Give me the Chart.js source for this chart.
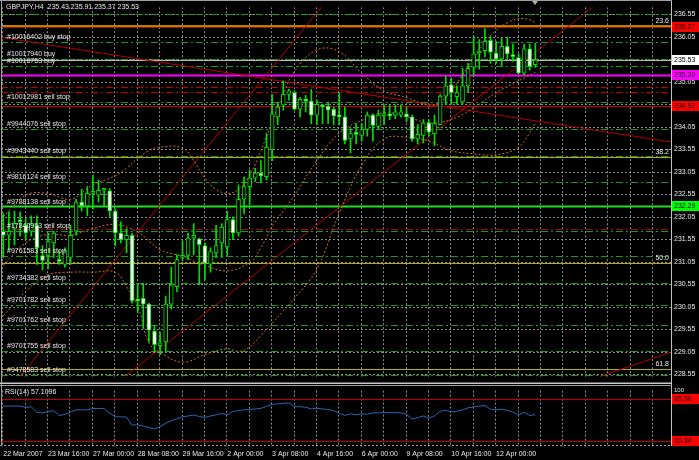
<!DOCTYPE html>
<html><head><meta charset="utf-8">
<script src="https://cdn.jsdelivr.net/npm/chart.js@4.4.0/dist/chart.umd.min.js"></script>
<style>
html,body{margin:0;padding:0;background:#000;overflow:hidden}
#wrap{position:relative;width:699px;height:460px;background:#000}
#c1{position:absolute;left:0;top:0;width:699px;height:384px}
#c2{position:absolute;left:0;top:384px;width:699px;height:76px}
</style></head><body>
<div id="wrap"><canvas id="c1" width="699" height="384"></canvas><canvas id="c2" width="699" height="76"></canvas></div>
<script>
// ---------- DATA ----------
const opens  = [231.73,231.64,231.79,231.96,231.86,231.73,231.86,231.19,231.19,231.47,231.10,230.99,231.15,231.73,232.38,232.29,232.57,232.53,232.64,232.63,
                232.18,231.69,231.54,231.64,230.22,230.24,230.11,229.51,229.19,229.27,230.11,230.50,231.15,231.19,231.58,231.56,231.41,231.00,231.25,231.47,
                231.38,231.99,231.69,232.44,232.72,232.91,233.02,232.94,233.55,234.27,234.53,234.77,234.81,234.44,234.66,234.62,234.31,234.51,234.51,234.44,
                234.31,234.27,233.78,233.90,233.86,233.99,234.31,234.06,234.29,234.34,234.31,234.31,234.34,234.27,233.78,233.86,234.14,233.90,234.10,234.73,
                234.98,234.72,234.60,234.96,235.37,235.69,235.74,235.97,235.69,235.56,235.84,235.65,235.59,235.24,235.78,235.43];
const highs  = [232.12,232.16,232.18,232.16,232.01,232.07,232.07,231.41,231.69,231.73,231.30,231.36,231.86,232.44,232.66,232.72,232.98,232.87,232.68,232.68,
                232.22,231.94,231.79,231.69,230.54,230.57,230.13,229.64,229.49,230.29,230.93,231.21,231.51,231.69,231.90,231.58,231.47,231.36,231.86,231.90,
                232.18,232.05,232.76,232.94,233.09,233.13,233.30,233.90,234.77,234.60,235.07,234.88,234.85,234.70,234.75,234.88,234.64,234.55,234.60,234.49,
                234.81,234.49,234.01,234.12,234.12,234.38,234.34,234.42,234.53,234.53,234.53,234.53,234.49,234.31,234.10,234.21,234.21,234.31,234.77,235.18,
                235.13,234.96,235.35,235.46,236.06,235.99,236.23,236.06,235.95,236.04,236.04,235.89,235.67,235.89,235.89,235.91];
const lows   = [231.15,231.32,231.43,231.62,231.54,231.62,230.99,230.87,230.89,231.15,230.99,230.93,230.99,231.64,232.18,232.07,232.22,232.38,232.29,232.05,
                231.41,231.47,231.25,230.13,229.92,229.57,229.27,229.06,228.99,229.06,230.00,230.39,231.08,231.10,231.21,230.54,230.65,230.82,231.15,231.15,
                231.19,231.54,231.62,232.12,232.33,232.83,232.81,232.87,233.30,234.10,234.42,234.64,234.42,234.27,234.38,234.12,234.10,234.12,234.12,234.10,
                234.10,233.67,233.47,233.67,233.73,233.84,233.73,234.01,234.10,234.21,234.23,234.27,234.16,233.73,233.67,233.69,233.84,233.63,234.10,234.55,
                234.55,234.55,234.55,234.81,235.18,235.33,235.61,235.46,235.46,235.41,235.56,235.50,235.22,235.20,235.31,235.37];
const closes = [231.64,231.73,231.90,231.94,231.69,231.90,231.36,231.08,231.51,231.69,231.06,231.30,231.64,232.38,232.29,232.57,232.59,232.64,232.66,232.18,
                231.69,231.54,231.64,230.18,230.18,230.11,229.53,229.21,229.25,230.11,230.54,231.10,231.19,231.58,231.64,231.43,231.02,231.28,231.41,231.82,
                231.99,231.69,232.44,232.72,232.91,233.02,232.96,233.60,234.34,234.49,234.77,234.85,234.44,234.66,234.62,234.31,234.55,234.49,234.42,234.29,
                234.27,233.75,233.90,233.88,233.99,234.31,234.08,234.31,234.34,234.29,234.38,234.38,234.27,233.78,233.88,234.14,233.93,234.12,234.73,234.96,
                234.81,234.81,234.96,235.35,235.67,235.71,235.95,235.71,235.56,235.84,235.67,235.61,235.24,235.78,235.39,235.53];
const rsiValues = [72.4,72.4,72.6,72.6,70.3,71.3,61.6,60.5,63.0,64.3,55.5,58.0,61.6,66.0,65.9,65.9,68.2,68.2,68.2,60.0,
                   53.5,53.5,53.0,38.8,39.5,37.0,34.5,32.0,36.0,42.0,46.5,50.0,53.5,55.0,56.7,54.0,52.5,55.0,57.0,59.5,
                   57.0,63.0,64.5,65.9,66.5,67.5,68.5,72.0,75.7,76.5,77.5,78.0,71.5,71.5,70.5,67.5,68.5,67.5,66.5,64.5,
                   60.0,56.0,59.0,57.0,59.0,58.0,60.5,60.5,61.0,61.0,61.0,60.5,58.0,49.5,52.0,55.0,51.5,55.0,63.3,65.0,
                   62.5,63.5,65.5,69.5,71.0,72.5,73.5,67.0,66.0,67.0,65.0,62.0,57.0,61.5,56.0,57.1];
// Bollinger band lines at selected bars
const upperBars  = [0,4,8,12,16,20,22,24,26,28,32,34,36,38,40,42,44,46,48,50,52,56,60,64,68,72,76,78,80,82,84,86,88,90,92,94,95];
const bandUpper  = [232.05,232.53,232.57,232.44,232.76,232.96,233.13,233.35,233.52,233.60,233.58,233.30,232.91,232.66,232.57,232.66,232.98,233.52,234.16,234.77,235.28,235.76,235.72,235.24,234.85,234.70,234.53,234.60,234.85,235.20,235.56,235.93,236.19,236.36,236.45,236.43,236.36];
const midBars    = [0,4,8,12,16,20,24,28,32,36,40,44,46,48,50,52,56,60,64,68,72,76,80,84,88,92,95];
const bandMiddle = [230.97,231.47,231.66,231.64,231.79,231.88,231.71,231.32,231.17,230.97,230.85,231.04,231.36,231.84,232.18,232.53,233.30,233.91,234.19,234.36,234.27,234.14,234.21,234.47,234.81,235.07,235.26];
const lowBars    = [0,4,8,12,16,20,22,24,26,28,32,36,40,42,44,46,48,50,52,56,60,64,68,72,76,80,84,88,92,95];
const bandLower  = [229.85,230.39,230.76,230.82,230.82,230.82,230.50,230.07,229.25,229.04,228.82,228.99,229.12,229.06,229.16,229.42,229.68,229.96,230.24,230.89,232.14,233.19,233.78,233.82,233.73,233.52,233.45,233.43,233.60,234.12];
const dateBars   = [0,8,16,24,32,40,48,56,64,72,80,88];
const dateLabels = ["22 Mar 2007","23 Mar 16:00","27 Mar 00:00","28 Mar 08:00","29 Mar 16:00","2 Apr 00:00","3 Apr 08:00","4 Apr 16:00","6 Apr 00:00","9 Apr 08:00","10 Apr 16:00","12 Apr 00:00"];
const priceTicks = [228.55,229.05,229.55,230.05,230.55,231.05,231.55,232.05,232.55,233.05,233.55,234.05,234.55,235.05,235.55,236.05,236.55];
const orderPrices = [236.56,235.93,235.56,235.41,234.60,234.00,233.41,232.83,231.73,231.17,230.57,230.09,229.64,229.06,228.54];
const orderNames  = ["","#10016402 buy stop","#10017940 buy","#10016753 buy","#10012981 sell stop","#9944076 sell stop","#9943440 sell stop","#9816124 sell stop","#17840953 sell stop","#9761583 sell stop","#9734382 sell stop","#9701782 sell stop","#9701762 sell stop","#9701755 sell stop","#9478583 sell stop"];
const greenLinePrice = 232.29, greenLineName = "#9788138 sell stop";
const stopPrices = [234.93,234.83,231.77];
const redPrices = [236.27,234.52];
const magentaPrice = 235.20;
const bidPrice = 235.53;
const fibPrices = [236.30,233.37,231.02,228.66];
const fibNames = ["23.6","38.2","50.0","61.8"];
const trendLines = [[[-0.6,236.04],[119.3,233.71]],[[2.98,228.50],[57.09,236.75]],[[21.73,228.50],[105.66,236.75]],[[106.5,228.50],[119.23,229.04]]];
const rsiLevels = [85.06,10.34];
const header = "GBPJPY,H4  235.43 235.91 235.37 235.53";
const rsiTitle = "RSI(14) 57.1096";

// ---------- helpers ----------
const X_MIN=-0.41, X_MAX=119.23, LAST_SLOT=119, SHIFT_BAR=95;
const GRID='#8a8a8a', FONT='"Liberation Sans", Arial, sans-serif', TXT='#e8e8e8';
function line(ctx,x1,y1,x2,y2,color,w,dash){ctx.save();ctx.strokeStyle=color;ctx.lineWidth=w;ctx.setLineDash(dash||[]);ctx.beginPath();ctx.moveTo(x1,y1);ctx.lineTo(x2,y2);ctx.stroke();ctx.restore();}
function tag(ctx,y,txt,bg,fg){ctx.save();ctx.fillStyle=bg;ctx.fillRect(672,Math.round(y)-5,27,10);ctx.fillStyle=fg;ctx.font='7px '+FONT;ctx.textBaseline='middle';ctx.fillText(txt,674,Math.round(y)+0.5);ctx.restore();}
const idx = opens.map((_,i)=>i);
const fitW = s=>{s.width=28;};
const noGrid = {display:false,drawTicks:false,tickLength:0};

// ---------- main chart ----------
const mainPlugin = {
  id:'mainPlug',
  beforeDatasetsDraw(chart){
    const {ctx,chartArea:a,scales:{x,y}}=chart;
    ctx.save();ctx.beginPath();ctx.rect(a.left,a.top,a.right-a.left,a.bottom-a.top);ctx.clip();
    const py=p=>Math.round(y.getPixelForValue(p))+0.5;
    priceTicks.forEach(p=>line(ctx,a.left,py(p),a.right,py(p),GRID,1,[2,2]));
    for(let i=0;i<=LAST_SLOT;i+=4){const xx=Math.round(x.getPixelForValue(i))-0.5;line(ctx,xx,a.top,xx,a.bottom,GRID,1,[2,2]);}
    fibPrices.forEach((p,k)=>line(ctx,a.left,py(p),a.right,py(p),k===0?'#9c8c00':'#b4b000',k===0?3:1,[]));
    orderPrices.forEach(p=>line(ctx,a.left,py(p),a.right,py(p),'#1f9a1f',1,[7,3,2,3]));
    stopPrices.forEach(p=>line(ctx,a.left,py(p),a.right,py(p),'#c00000',1,[7,3,2,3]));
    line(ctx,a.left,py(greenLinePrice),a.right,py(greenLinePrice),'#22dd22',2,[]);
    redPrices.forEach(p=>line(ctx,a.left,py(p),a.right,py(p),'#c80000',1,[]));
    line(ctx,a.left,py(magentaPrice),a.right,py(magentaPrice),'#ff00ff',2,[]);
    line(ctx,a.left,py(bidPrice),a.right,py(bidPrice),'#b8b8b8',1,[]);
    trendLines.forEach(t=>line(ctx,x.getPixelForValue(t[0][0]),y.getPixelForValue(t[0][1]),x.getPixelForValue(t[1][0]),y.getPixelForValue(t[1][1]),'#b40000',1,[]));
    ctx.restore();
  },
  afterDraw(chart){
    const {ctx,chartArea:a,scales:{x,y}}=chart;
    const py=p=>Math.round(y.getPixelForValue(p));
    ctx.save();
    ctx.font='7px '+FONT;ctx.fillStyle=TXT;ctx.textBaseline='bottom';
    orderPrices.forEach((p,k)=>{if(orderNames[k])ctx.fillText(orderNames[k],7,py(p)-1.5);});
    ctx.fillText(greenLineName,7,py(greenLinePrice)-0.5);
    ctx.textAlign='right';
    fibNames.forEach((n,k)=>ctx.fillText(n,669,py(fibPrices[k])-1));
    ctx.textAlign='left';ctx.textBaseline='middle';
    ctx.fillText(header,6,7);
    // chart-shift marker
    const sx=Math.round(x.getPixelForValue(SHIFT_BAR));
    ctx.fillStyle='#b0b0b0';ctx.beginPath();ctx.moveTo(sx-3,1);ctx.lineTo(sx+3,1);ctx.lineTo(sx,5);ctx.closePath();ctx.fill();
    ctx.restore();
    line(ctx,1.5,0,1.5,384,'#a0a0a0',1,[]);
    line(ctx,671.5,0,671.5,384,'#c0c0c0',1,[]);
    line(ctx,0,0.5,672,0.5,'#a0a0a0',1,[]);
    line(ctx,0,383.5,672,383.5,'#c8c8c8',2,[]);
    tag(ctx,y.getPixelForValue(redPrices[0]),'236.27','#ff0000','#000');
    tag(ctx,y.getPixelForValue(bidPrice),'235.53','#ffffff','#000');
    tag(ctx,y.getPixelForValue(magentaPrice),'235.20','#ff00ff','#000');
    tag(ctx,y.getPixelForValue(redPrices[1]),'234.52','#ff0000','#000');
    tag(ctx,y.getPixelForValue(greenLinePrice),'232.29','#00ff00','#000');
  }
};

const bandDs = (bars,vals)=>({type:'line',data:bars.map((b,k)=>({x:b,y:vals[k]})),borderColor:'#c87020',borderWidth:1,borderDash:[2,2],pointRadius:0,tension:0.4,order:3});
new Chart(document.getElementById('c1'),{
  type:'bar',
  data:{datasets:[
    {data:idx.map(i=>({x:i,y:[Math.min(opens[i],closes[i]),Math.max(opens[i],closes[i])]})),
     backgroundColor:idx.map(i=>closes[i]<opens[i]?'#ffffff':'#000000'),borderColor:'#00e000',borderWidth:1,borderSkipped:false,
     barThickness:4,minBarLength:2,grouped:false,order:1},
    {data:idx.map(i=>({x:i,y:[lows[i],highs[i]]})),backgroundColor:'#00e000',barThickness:1,grouped:false,order:2},
    bandDs(upperBars,bandUpper),bandDs(midBars,bandMiddle),bandDs(lowBars,bandLower)
  ]},
  options:{responsive:false,animation:false,devicePixelRatio:1,
    layout:{padding:{left:1,top:2,right:0,bottom:1}},
    plugins:{legend:{display:false},tooltip:{enabled:false}},
    scales:{
      x:{type:'linear',min:X_MIN,max:X_MAX,offset:false,display:false},
      y:{position:'right',min:228.496,max:236.707,afterFit:fitW,
         afterBuildTicks:s=>{s.ticks=priceTicks.map(v=>({value:v}));},
         grid:noGrid,border:{display:false},
         ticks:{color:TXT,font:{size:7,family:FONT},padding:3,callback:v=>v.toFixed(2)}}
    }
  },
  plugins:[mainPlugin]
});

// ---------- RSI chart ----------
const rsiPlugin = {
  id:'rsiPlug',
  beforeDatasetsDraw(chart){
    const {ctx,chartArea:a,scales:{x,y}}=chart;
    for(let i=0;i<=LAST_SLOT;i+=4){const xx=Math.round(x.getPixelForValue(i))-0.5;line(ctx,xx,a.top,xx,a.bottom,GRID,1,[2,2]);}
    rsiLevels.forEach(v=>{const yy=Math.round(y.getPixelForValue(v))+0.5;line(ctx,a.left,yy,a.right,yy,'#c00000',1,[]);});
  },
  afterDraw(chart){
    const {ctx,chartArea:a,scales:{y}}=chart;
    line(ctx,1.5,0,1.5,62,'#a0a0a0',1,[]);
    line(ctx,671.5,0,671.5,62,'#c0c0c0',1,[]);
    line(ctx,0,1.5,672,1.5,'#a0a0a0',1,[]);
    line(ctx,0,61.5,672,61.5,'#a0a0a0',1,[2,2]);
    ctx.save();ctx.font='7px '+FONT;ctx.fillStyle=TXT;ctx.textBaseline='middle';ctx.fillText(rsiTitle,5,8);ctx.restore();
    tag(ctx,y.getPixelForValue(rsiLevels[0]),'85.06','#ff0000','#000');
    tag(ctx,y.getPixelForValue(rsiLevels[1]),'10.34','#ff0000','#000');
  }
};
new Chart(document.getElementById('c2'),{
  type:'line',
  data:{datasets:[{data:idx.map(i=>({x:i,y:rsiValues[i]})),borderColor:'#2a66b4',borderWidth:1,pointRadius:0,tension:0}]},
  options:{responsive:false,animation:false,devicePixelRatio:1,
    layout:{padding:{left:1,top:2,right:0,bottom:0}},
    plugins:{legend:{display:false},tooltip:{enabled:false}},
    scales:{
      x:{type:'linear',min:X_MIN,max:X_MAX,offset:false,afterFit:s=>{s.height=13;},
         afterBuildTicks:s=>{s.ticks=dateBars.map(v=>({value:v}));},
         grid:noGrid,border:{display:false},
         ticks:{color:TXT,font:{size:7,family:FONT},padding:3,align:'start',maxRotation:0,autoSkip:false,
           callback:v=>dateLabels[dateBars.indexOf(v)]}},
      y:{position:'right',min:0,max:100,afterFit:fitW,
         afterBuildTicks:s=>{s.ticks=[{value:100}];},
         grid:noGrid,border:{display:false},
         ticks:{color:TXT,font:{size:6,family:FONT},padding:3}}
    }
  },
  plugins:[rsiPlugin]
});
</script>
</body></html>
